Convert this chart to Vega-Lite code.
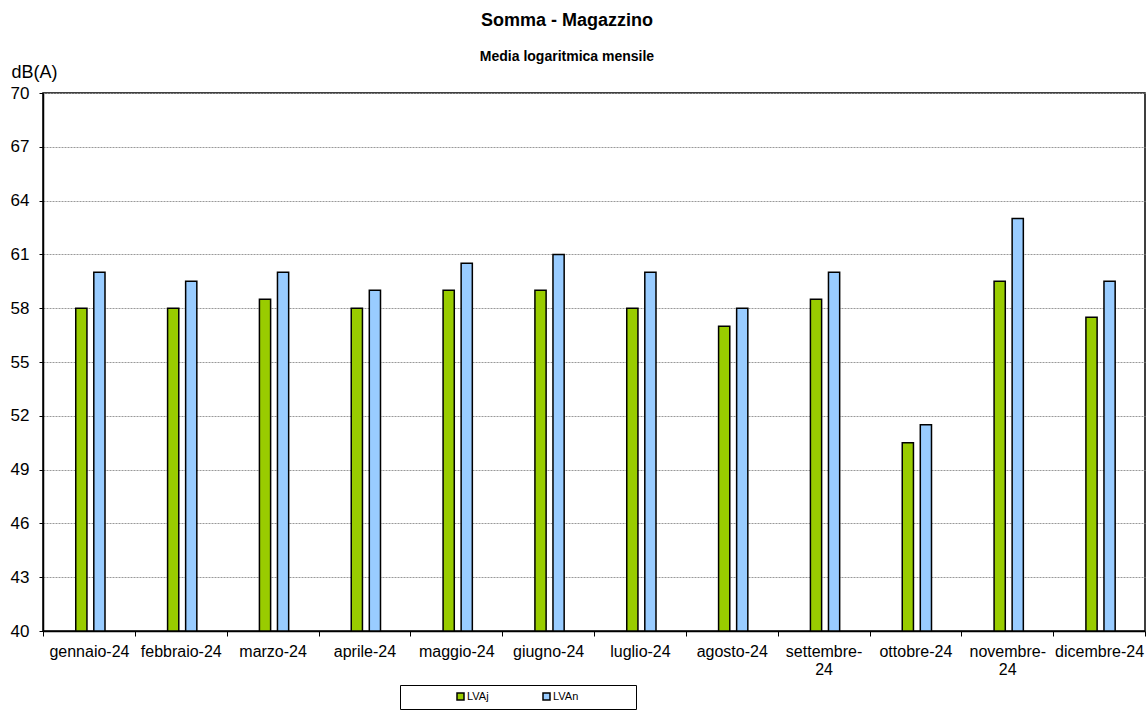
{
  "$schema": "https://vega.github.io/schema/vega-lite/v6.json",
  "autosize": {"type": "none"},
  "padding": {"left": 43, "top": 93, "right": 1, "bottom": 84},
  "width": 1102,
  "height": 538,
  "background": "white",
  "title": {
    "text": "Somma - Magazzino",
    "subtitle": "Media logaritmica mensile",
    "anchor": "middle",
    "dx": -27,
    "offset": -1,
    "font": "Liberation Sans",
    "fontSize": 18,
    "fontWeight": "bold",
    "color": "black",
    "subtitleFont": "Liberation Sans",
    "subtitleFontSize": 14,
    "subtitleFontWeight": "bold",
    "subtitleColor": "black",
    "subtitlePadding": 20
  },
  "config": {
    "font": "Liberation Sans",
    "view": {"stroke": "black", "strokeWidth": 1.5}
  },
  "data": {
    "values": [
      {"month": "gennaio-24", "series": "LVAj", "value": 58},
      {"month": "gennaio-24", "series": "LVAn", "value": 60},
      {"month": "febbraio-24", "series": "LVAj", "value": 58},
      {"month": "febbraio-24", "series": "LVAn", "value": 59.5},
      {"month": "marzo-24", "series": "LVAj", "value": 58.5},
      {"month": "marzo-24", "series": "LVAn", "value": 60},
      {"month": "aprile-24", "series": "LVAj", "value": 58},
      {"month": "aprile-24", "series": "LVAn", "value": 59},
      {"month": "maggio-24", "series": "LVAj", "value": 59},
      {"month": "maggio-24", "series": "LVAn", "value": 60.5},
      {"month": "giugno-24", "series": "LVAj", "value": 59},
      {"month": "giugno-24", "series": "LVAn", "value": 61},
      {"month": "luglio-24", "series": "LVAj", "value": 58},
      {"month": "luglio-24", "series": "LVAn", "value": 60},
      {"month": "agosto-24", "series": "LVAj", "value": 57},
      {"month": "agosto-24", "series": "LVAn", "value": 58},
      {"month": "settembre-24", "series": "LVAj", "value": 58.5},
      {"month": "settembre-24", "series": "LVAn", "value": 60},
      {"month": "ottobre-24", "series": "LVAj", "value": 50.5},
      {"month": "ottobre-24", "series": "LVAn", "value": 51.5},
      {"month": "novembre-24", "series": "LVAj", "value": 59.5},
      {"month": "novembre-24", "series": "LVAn", "value": 63},
      {"month": "dicembre-24", "series": "LVAj", "value": 57.5},
      {"month": "dicembre-24", "series": "LVAn", "value": 59.5}
    ]
  },
  "mark": {"type": "bar", "stroke": "black", "strokeWidth": 1.5},
  "encoding": {
    "x": {
      "field": "month",
      "type": "nominal",
      "sort": ["gennaio-24","febbraio-24","marzo-24","aprile-24","maggio-24","giugno-24","luglio-24","agosto-24","settembre-24","ottobre-24","novembre-24","dicembre-24"],
      "scale": {"paddingInner": 0, "paddingOuter": 0},
      "axis": {
        "title": null,
        "labelAngle": 0,
        "labelFontSize": 16,
        "labelColor": "black",
        "labelPadding": 7,
        "labelExpr": "indexof(['settembre-24','novembre-24'], datum.label) >= 0 ? [replace(datum.label, '-24', '-'), '24'] : datum.label",
        "labelLineHeight": 18,
        "labelLimit": 200,
        "labelOverlap": false,
        "tickBand": "extent",
        "tickColor": "black",
        "tickSize": 5,
        "tickWidth": 1,
        "domainColor": "black",
        "domainWidth": 1.5,
        "grid": false
      }
    },
    "xOffset": {
      "field": "series",
      "type": "nominal",
      "scale": {"range": [32.75, 62], "paddingInner": 0.3795, "paddingOuter": 0}
    },
    "y": {
      "field": "value",
      "type": "quantitative",
      "scale": {"domain": [40, 70], "nice": false, "zero": false},
      "axis": {
        "title": "dB(A)",
        "titleAngle": 0,
        "titleAlign": "left",
        "titleBaseline": "alphabetic",
        "titleX": -32,
        "titleY": -16,
        "titleFontSize": 18,
        "titleFontWeight": "normal",
        "titleColor": "black",
        "values": [40, 43, 46, 49, 52, 55, 58, 61, 64, 67, 70],
        "labelFontSize": 17,
        "labelColor": "black",
        "labelPadding": 10,
        "tickColor": "black",
        "tickSize": 4,
        "domainColor": "black",
        "domainWidth": 1.5,
        "grid": true,
        "gridColor": "#999999",
        "gridDash": [2, 1],
        "gridWidth": 1
      }
    },
    "y2": {"datum": 40},
    "fill": {
      "field": "series",
      "type": "nominal",
      "scale": {"domain": ["LVAj", "LVAn"], "range": ["#99CC00", "#99CCFF"]},
      "legend": {
        "orient": "none",
        "legendX": 357,
        "legendY": 592,
        "direction": "horizontal",
        "title": "\u00a0",
        "titleOrient": "right",
        "titlePadding": 52,
        "titleFontSize": 11,
        "strokeColor": "black",
        "fillColor": "white",
        "padding": 6,
        "symbolType": "square",
        "symbolSize": 49,
        "symbolStrokeColor": "black",
        "symbolStrokeWidth": 1.5,
        "symbolOffset": 49,
        "labelOffset": 1,
        "labelFontSize": 11,
        "labelColor": "black",
        "columnPadding": 3
      }
    }
  }
}
